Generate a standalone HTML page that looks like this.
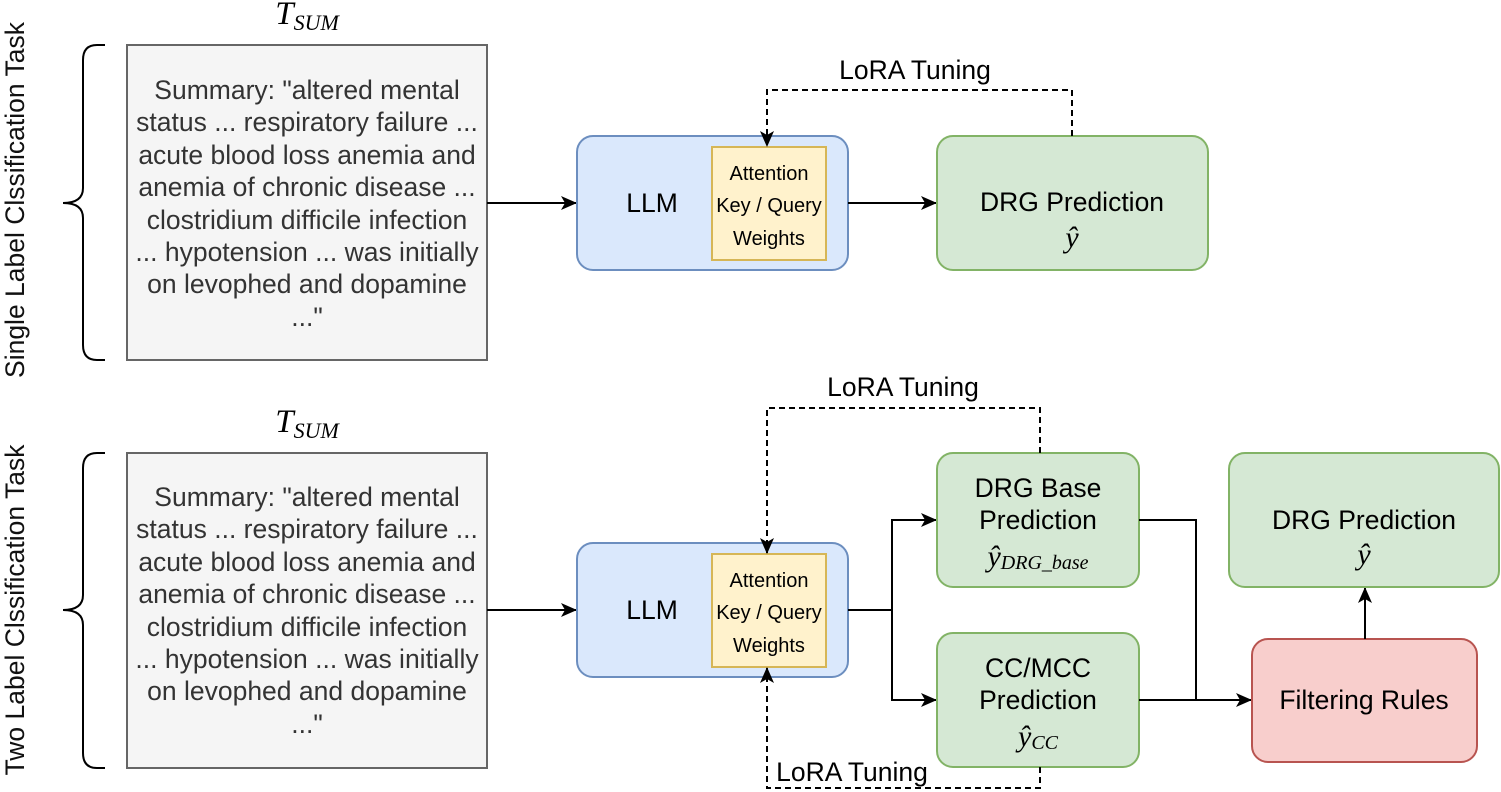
<!DOCTYPE html>
<html><head><meta charset="utf-8"><style>
html,body{margin:0;padding:0;background:#fff;}
svg{display:block;font-family:"Liberation Sans",sans-serif;}
</style></head><body>
<svg width="1501" height="792" viewBox="0 0 1501 792" xmlns="http://www.w3.org/2000/svg">
<defs>
<marker id="a" markerWidth="16" markerHeight="16" refX="15" refY="8" orient="auto" markerUnits="userSpaceOnUse">
<path d="M0,1 L16,8 L0,15 L4,8 z" fill="#000"/>
</marker>
</defs>
<g id="top">
<text x="15" y="200" font-size="26.5" fill="#111" text-anchor="middle" transform="rotate(-90 15 200)" dominant-baseline="central">Single Label Clssification Task</text>
<path d="M105,45 L97,45 Q83,45 83,60 L83,188 Q83,203 63,203 Q83,203 83,218 L83,345 Q83,360 97,360 L105,360" fill="none" stroke="#000" stroke-width="2"/>
<text x="307" y="24" font-family="Liberation Serif,serif" font-style="italic" font-size="33" text-anchor="middle">T<tspan font-size="22" dy="6">SUM</tspan></text>
<rect x="127" y="45" width="360" height="315" fill="#f5f5f5" stroke="#666" stroke-width="2"/>
<g font-size="26.5" fill="#333" text-anchor="middle">
<text x="307" y="99">Summary: "altered mental</text>
<text x="307" y="131">status ... respiratory failure ...</text>
<text x="307" y="164">acute blood loss anemia and</text>
<text x="307" y="196">anemia of chronic disease ...</text>
<text x="307" y="229">clostridium difficile infection</text>
<text x="307" y="261">... hypotension ... was initially</text>
<text x="307" y="293">on levophed and dopamine</text>
<text x="307" y="326">..."</text>
</g>
<line x1="487" y1="203" x2="576" y2="203" stroke="#000" stroke-width="2" marker-end="url(#a)"/>
<rect x="577" y="136" width="271" height="134" rx="16" fill="#dae8fc" stroke="#6c8ebf" stroke-width="2"/>
<text x="652" y="212" font-size="26.5" text-anchor="middle">LLM</text>
<rect x="712" y="147" width="114" height="113" fill="#fff2cc" stroke="#d6b656" stroke-width="2"/>
<g font-size="20" text-anchor="middle"><text x="769" y="180">Attention</text><text x="769" y="212">Key / Query</text><text x="769" y="245">Weights</text></g>
<line x1="848" y1="203" x2="936" y2="203" stroke="#000" stroke-width="2" marker-end="url(#a)"/>
<rect x="937" y="136" width="271" height="134" rx="16" fill="#d5e8d4" stroke="#82b366" stroke-width="2"/>
<text x="1072" y="211" font-size="26.5" text-anchor="middle">DRG Prediction</text>
<text x="1072" y="247" font-family="Liberation Serif,serif" font-style="italic" font-size="30" text-anchor="middle">ŷ</text>
<path d="M1072,136 L1072,90 L767,90 L767,146" fill="none" stroke="#000" stroke-width="2" stroke-dasharray="6,4" marker-end="url(#a)"/>
<text x="915" y="79" font-size="26.5" text-anchor="middle">LoRA Tuning</text>
</g>
<g id="bottom">
<text x="15" y="610" font-size="26.5" fill="#111" text-anchor="middle" transform="rotate(-90 15 610)" dominant-baseline="central">Two Label Clssification Task</text>
<path d="M105,453 L97,453 Q83,453 83,468 L83,595 Q83,610 63,610 Q83,610 83,625 L83,753 Q83,768 97,768 L105,768" fill="none" stroke="#000" stroke-width="2"/>
<text x="307" y="432" font-family="Liberation Serif,serif" font-style="italic" font-size="33" text-anchor="middle">T<tspan font-size="22" dy="6">SUM</tspan></text>
<rect x="127" y="453" width="360" height="315" fill="#f5f5f5" stroke="#666" stroke-width="2"/>
<g font-size="26.5" fill="#333" text-anchor="middle">
<text x="307" y="506">Summary: "altered mental</text>
<text x="307" y="538">status ... respiratory failure ...</text>
<text x="307" y="571">acute blood loss anemia and</text>
<text x="307" y="603">anemia of chronic disease ...</text>
<text x="307" y="636">clostridium difficile infection</text>
<text x="307" y="668">... hypotension ... was initially</text>
<text x="307" y="700">on levophed and dopamine</text>
<text x="307" y="733">..."</text>
</g>
<line x1="487" y1="610" x2="576" y2="610" stroke="#000" stroke-width="2" marker-end="url(#a)"/>
<rect x="577" y="543" width="271" height="134" rx="16" fill="#dae8fc" stroke="#6c8ebf" stroke-width="2"/>
<text x="652" y="619" font-size="26.5" text-anchor="middle">LLM</text>
<rect x="712" y="554" width="114" height="113" fill="#fff2cc" stroke="#d6b656" stroke-width="2"/>
<g font-size="20" text-anchor="middle"><text x="769" y="587">Attention</text><text x="769" y="619">Key / Query</text><text x="769" y="652">Weights</text></g>
<path d="M848,610 L892,610 L892,520 L936,520" fill="none" stroke="#000" stroke-width="2" marker-end="url(#a)"/>
<path d="M892,610 L892,700 L936,700" fill="none" stroke="#000" stroke-width="2" marker-end="url(#a)"/>
<rect x="937" y="453" width="202" height="134" rx="16" fill="#d5e8d4" stroke="#82b366" stroke-width="2"/>
<text x="1038" y="497" font-size="26.5" text-anchor="middle">DRG Base</text>
<text x="1038" y="529" font-size="26.5" text-anchor="middle">Prediction</text>
<text x="1038" y="566" font-family="Liberation Serif,serif" font-style="italic" font-size="30" text-anchor="middle">ŷ<tspan font-size="20" dy="3">DRG_base</tspan></text>
<rect x="937" y="633" width="202" height="134" rx="16" fill="#d5e8d4" stroke="#82b366" stroke-width="2"/>
<text x="1038" y="677" font-size="26.5" text-anchor="middle">CC/MCC</text>
<text x="1038" y="709" font-size="26.5" text-anchor="middle">Prediction</text>
<text x="1038" y="746" font-family="Liberation Serif,serif" font-style="italic" font-size="30" text-anchor="middle">ŷ<tspan font-size="20" dy="3">CC</tspan></text>
<path d="M1139,520 L1196,520 L1196,700" fill="none" stroke="#000" stroke-width="2"/>
<line x1="1139" y1="700" x2="1251" y2="700" stroke="#000" stroke-width="2" marker-end="url(#a)"/>
<rect x="1252" y="639" width="225" height="123" rx="16" fill="#f8cecc" stroke="#b85450" stroke-width="2"/>
<text x="1364" y="709" font-size="26.5" text-anchor="middle">Filtering Rules</text>
<line x1="1365" y1="639" x2="1365" y2="588" stroke="#000" stroke-width="2" marker-end="url(#a)"/>
<rect x="1229" y="453" width="270" height="134" rx="16" fill="#d5e8d4" stroke="#82b366" stroke-width="2"/>
<text x="1364" y="529" font-size="26.5" text-anchor="middle">DRG Prediction</text>
<text x="1364" y="564" font-family="Liberation Serif,serif" font-style="italic" font-size="30" text-anchor="middle">ŷ</text>
<path d="M1040,453 L1040,408 L767,408 L767,553" fill="none" stroke="#000" stroke-width="2" stroke-dasharray="6,4" marker-end="url(#a)"/>
<text x="903" y="396" font-size="26.5" text-anchor="middle">LoRA Tuning</text>
<path d="M1040,767 L1040,788 L767,788 L767,668" fill="none" stroke="#000" stroke-width="2" stroke-dasharray="6,4" marker-end="url(#a)"/>
<rect x="774" y="756" width="158" height="30" fill="#fff"/>
<text x="852" y="781" font-size="26.5" text-anchor="middle">LoRA Tuning</text>
</g>
</svg>
</body></html>
